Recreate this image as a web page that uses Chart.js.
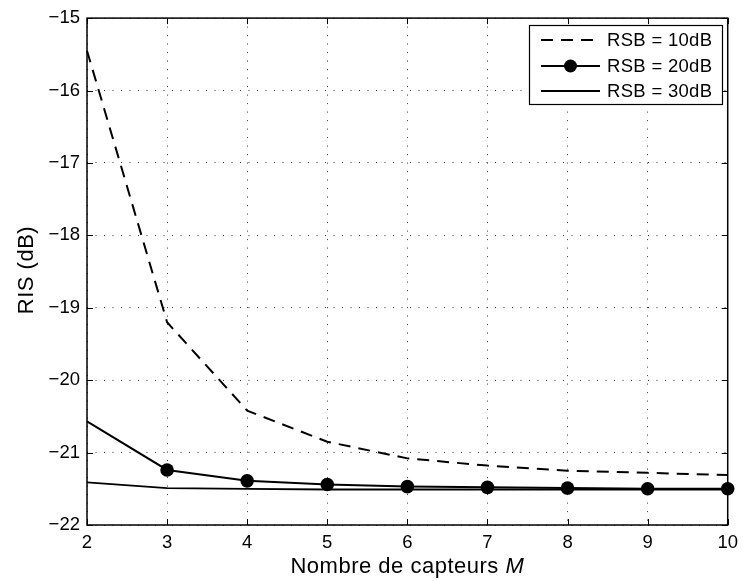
<!DOCTYPE html>
<html>
<head>
<meta charset="utf-8">
<script src="https://cdn.jsdelivr.net/npm/chart.js@4"></script>
<style>
  html, body { margin: 0; padding: 0; background: #fff; }
  #wrap { width: 745px; height: 581px; }
</style>
</head>
<body>
<div id="wrap"><canvas id="risChart"></canvas></div>
<script>
// Nombre de capteurs M
const sensors = [2, 3, 4, 5, 6, 7, 8, 9, 10];
// RIS (dB) pour chaque RSB
const ris10dB = [-15.45, -19.2, -20.42, -20.85, -21.08, -21.18, -21.25, -21.28, -21.31];
const ris20dB = [-20.57, -21.24, -21.39, -21.44, -21.47, -21.48, -21.49, -21.5, -21.5];
const ris30dB = [-21.41, -21.49, -21.5, -21.51, -21.51, -21.51, -21.51, -21.51, -21.51];
const seriesLabels = ['RSB = 10dB', 'RSB = 20dB', 'RSB = 30dB'];
const yTicks = [-22, -21, -20, -19, -18, -17, -16, -15];

const FONT = '"Liberation Sans", Arial, Helvetica, sans-serif';

function toPoints(values) {
    return sensors.map((m, i) => ({ x: m, y: values[i] }));
}

// box, inward ticks, axis titles and legend drawn like the original figure
const figurePlugin = {
    id: 'figure',
    afterDraw(chart) {
        const ctx = chart.ctx;
        const area = chart.chartArea;
        const xs = chart.scales.x;
        const ys = chart.scales.y;
        const tickLen = 6;

        ctx.save();
        ctx.strokeStyle = '#000';
        ctx.lineWidth = 1.5;
        ctx.setLineDash([]);
        ctx.strokeRect(area.left, area.top, area.right - area.left, area.bottom - area.top);

        ctx.lineWidth = 1;
        ctx.beginPath();
        sensors.forEach(m => {
            const px = Math.round(xs.getPixelForValue(m)) + 0.5;
            ctx.moveTo(px, area.bottom); ctx.lineTo(px, area.bottom - tickLen);
            ctx.moveTo(px, area.top); ctx.lineTo(px, area.top + tickLen);
        });
        yTicks.forEach(v => {
            const py = Math.round(ys.getPixelForValue(v)) + 0.5;
            ctx.moveTo(area.left, py); ctx.lineTo(area.left + tickLen, py);
            ctx.moveTo(area.right, py); ctx.lineTo(area.right - tickLen, py);
        });
        ctx.stroke();

        // axis titles
        ctx.fillStyle = '#000';
        ctx.textBaseline = 'alphabetic';
        ctx.letterSpacing = '0.5px';
        const part1 = 'Nombre de capteurs ';
        const part2 = 'M';
        ctx.font = '22px ' + FONT;
        const w1 = ctx.measureText(part1).width;
        ctx.font = 'italic 22px ' + FONT;
        const w2 = ctx.measureText(part2).width;
        const tx = (area.left + area.right) / 2 - (w1 + w2) / 2;
        ctx.textAlign = 'left';
        ctx.font = '22px ' + FONT;
        ctx.fillText(part1, tx, 573);
        ctx.font = 'italic 22px ' + FONT;
        ctx.fillText(part2, tx + w1, 573);

        ctx.save();
        ctx.translate(33, 270);
        ctx.rotate(-Math.PI / 2);
        ctx.textAlign = 'center';
        ctx.font = '22px ' + FONT;
        ctx.fillText('RIS (dB)', 0, 0);
        ctx.restore();
        ctx.letterSpacing = '0px';

        // legend
        const box = { left: 529, top: 25, right: 722, bottom: 104 };
        ctx.fillStyle = '#fff';
        ctx.fillRect(box.left, box.top, box.right - box.left, box.bottom - box.top);
        ctx.strokeStyle = '#000';
        ctx.lineWidth = 1.2;
        ctx.strokeRect(box.left + 0.5, box.top + 0.5, box.right - box.left, box.bottom - box.top);
        const rows = [40, 66, 91];
        ctx.textBaseline = 'middle';
        chart.data.datasets.forEach((ds, i) => {
            const y = rows[i];
            ctx.strokeStyle = '#000';
            ctx.lineWidth = ds.borderWidth;
            ctx.setLineDash(ds.borderDash || []);
            ctx.beginPath();
            ctx.moveTo(541, y);
            ctx.lineTo(600, y);
            ctx.stroke();
            ctx.setLineDash([]);
            if (i === 1) {
                ctx.fillStyle = '#000';
                ctx.beginPath();
                ctx.arc(570.5, y, 6.5, 0, Math.PI * 2);
                ctx.fill();
            }
            ctx.fillStyle = '#000';
            ctx.textAlign = 'left';
            ctx.letterSpacing = '0.3px';
            ctx.font = '18.5px ' + FONT;
            ctx.fillText(ds.label, 607, y + 1);
        });
        ctx.restore();
    }
};

new Chart(document.getElementById('risChart'), {
    type: 'line',
    data: {
        datasets: [{
            label: seriesLabels[0],
            data: toPoints(ris10dB),
            borderColor: '#000',
            borderWidth: 2,
            borderDash: [12, 8],
            pointRadius: 0,
            fill: false,
            tension: 0
        }, {
            label: seriesLabels[1],
            data: toPoints(ris20dB),
            borderColor: '#000',
            backgroundColor: '#000',
            borderWidth: 2,
            pointRadius: sensors.map(m => (m === 2 ? 0 : 6.8)),
            pointBorderWidth: 0,
            fill: false,
            tension: 0
        }, {
            label: seriesLabels[2],
            data: toPoints(ris30dB),
            borderColor: '#000',
            borderWidth: 1.8,
            pointRadius: 0,
            fill: false,
            tension: 0
        }]
    },
    options: {
        responsive: true,
        maintainAspectRatio: false,
        animation: false,
        clip: false,
        layout: { padding: { left: 0, top: 15, right: 13, bottom: 0 } },
        plugins: {
            legend: { display: false },
            tooltip: { enabled: false }
        },
        scales: {
            x: {
                type: 'linear',
                min: 2,
                max: 10,
                afterFit: scale => { scale.height = 56; },
                afterBuildTicks: scale => { scale.ticks = sensors.map(v => ({ value: v })); },
                grid: { color: '#333', lineWidth: 1, drawTicks: false },
                border: { display: false, dash: [1, 7.5] },
                ticks: {
                    color: '#000',
                    padding: 7,
                    maxRotation: 0,
                    font: { family: FONT, size: 18.5 }
                }
            },
            y: {
                min: -22,
                max: -15,
                afterFit: scale => { scale.width = 87; },
                afterBuildTicks: scale => { scale.ticks = yTicks.map(v => ({ value: v })); },
                grid: { color: '#333', lineWidth: 1, drawTicks: false },
                border: { display: false, dash: [1, 7.5] },
                ticks: {
                    color: '#000',
                    padding: 7,
                    font: { family: FONT, size: 18.5 },
                    callback: v => String(v).replace('-', '\u2212')
                }
            }
        }
    },
    plugins: [figurePlugin]
});
</script>
</body>
</html>
